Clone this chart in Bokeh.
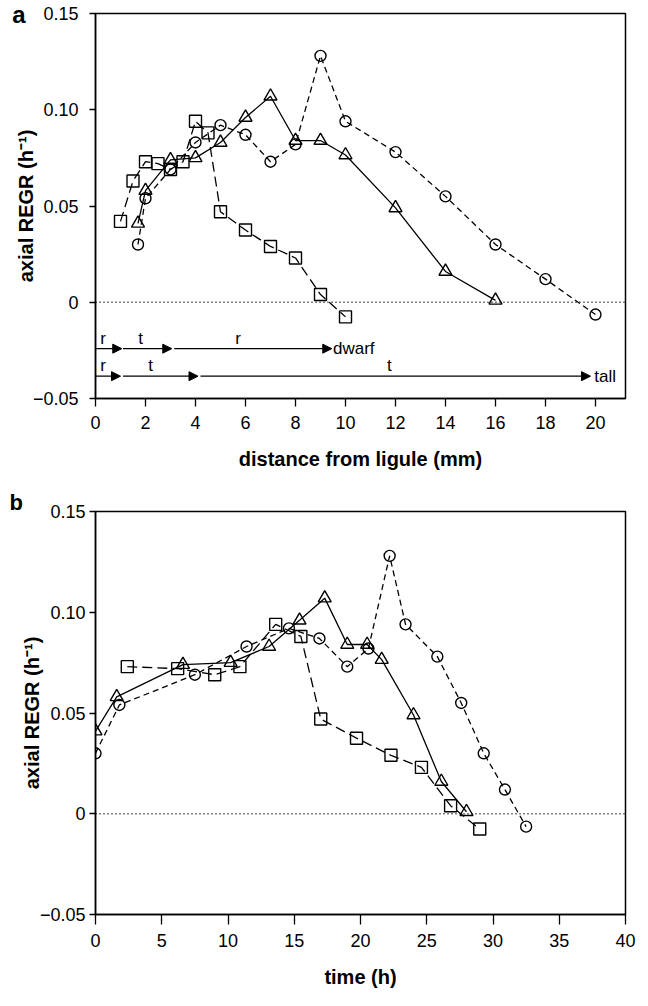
from bokeh.plotting import figure
from bokeh.models import Span, Arrow, NormalHead, FixedTicker, Range1d, LinearAxis
from bokeh.layouts import column
from bokeh.core.properties import value
from bokeh.embed import file_html
from bokeh.resources import INLINE

FONT = "Liberation Sans"

# ---------------- data ----------------
# squares (dwarf), long dashes
sq_regr = [0.042, 0.063, 0.073, 0.072, 0.069, 0.073, 0.094, 0.088, 0.047, 0.0375, 0.029, 0.023, 0.004, -0.0076]
sq_dist = [1.0, 1.5, 2.0, 2.5, 3.0, 3.5, 4.0, 4.5, 5.0, 6.0, 7.0, 8.0, 9.0, 10.0]
sq_time = [2.4, 6.2, 9.0, 10.9, 13.6, 15.5, 17.0, 19.7, 22.3, 24.6, 26.8, 29.0]  # for sq_regr[2:]

# triangles, solid
tr_regr = [0.041, 0.058, 0.074, 0.075, 0.083, 0.096, 0.107, 0.084, 0.084, 0.0765, 0.049, 0.016, 0.001]
tr_dist = [1.7, 2.0, 3.0, 4.0, 5.0, 6.0, 7.0, 8.0, 9.0, 10.0, 12.0, 14.0, 16.0]
tr_time = [0.0, 1.6, 6.6, 10.2, 13.1, 15.4, 17.3, 19.0, 20.5, 21.6, 24.0, 26.1, 28.0]

# circles, short dashes
ci_regr = [0.030, 0.054, 0.069, 0.083, 0.092, 0.087, 0.073, 0.082, 0.128, 0.094, 0.078, 0.055, 0.030, 0.012, -0.0064]
ci_dist = [1.7, 2.0, 3.0, 4.0, 5.0, 6.0, 7.0, 8.0, 9.0, 10.0, 12.0, 14.0, 16.0, 18.0, 20.0]
ci_time = [0.0, 1.8, 7.5, 11.4, 14.6, 16.9, 19.0, 20.6, 22.2, 23.4, 25.8, 27.6, 29.3, 30.9, 32.5]

y_ticks = [-0.05, 0.0, 0.05, 0.10, 0.15]
y_tick_labels = ["\u22120.05", "0", "0.05", "0.10", "0.15"]
xa_ticks = [0, 2, 4, 6, 8, 10, 12, 14, 16, 18, 20]
xb_ticks = [0, 5, 10, 15, 20, 25, 30, 35, 40]

# zone annotations (panel a): arrow segments (start, end) and labels
dwarf_row_y = -0.0241
tall_row_y = -0.0384
dwarf_segs = [(0.0, 1.05), (1.1, 3.05), (3.15, 9.45)]
dwarf_seg_labels = ["r", "t", "r"]
dwarf_lab_x = [0.3, 1.8, 5.7]
tall_segs = [(0.0, 1.0), (1.1, 4.1), (4.2, 19.8)]
tall_seg_labels = ["r", "t", "t"]
tall_lab_x = [0.3, 2.2, 11.75]
row_names = ["dwarf", "tall"]
row_name_x = [9.5, 19.95]


def style(p, xticks, xtick_len):
    p.xaxis.ticker = FixedTicker(ticks=xticks)
    p.yaxis.ticker = FixedTicker(ticks=y_ticks)
    p.yaxis.major_label_overrides = dict(zip(y_ticks, y_tick_labels))
    p.grid.visible = False
    p.outline_line_color = "black"
    p.outline_line_width = 1.5
    p.outline_line_alpha = 1
    for ax in (p.xaxis, p.yaxis):
        ax.minor_tick_line_color = None
        ax.major_tick_in = 0
        ax.axis_line_width = 1.5
        ax.major_tick_line_width = 1.3
        ax.major_label_text_font = FONT
        ax.major_label_text_font_size = "18px"
        ax.major_label_text_color = "black"
        ax.axis_label_text_font = FONT
        ax.axis_label_text_font_size = "20px"
        ax.axis_label_text_font_style = "bold"
        ax.axis_label_text_color = "black"
    p.xaxis.major_tick_out = xtick_len
    p.yaxis.major_tick_out = 6
    p.yaxis.axis_label = "axial REGR (h\u207b\u00b9)"
    p.add_layout(Span(location=0, dimension="width", line_color="black",
                      line_dash="1 3", line_width=1.5))


def series(p, xs_sq, ys_sq, xs_tr, ys_tr, xs_ci, ys_ci):
    p.line(xs_sq, ys_sq, line_color="black", line_width=1.3, line_dash="10 5")
    p.scatter(xs_sq, ys_sq, marker="square", size=12, fill_color=None,
              line_color="black", line_width=1.4)
    p.line(xs_tr, ys_tr, line_color="black", line_width=1.3)
    p.scatter(xs_tr, ys_tr, marker="triangle", size=13, fill_color=None,
              line_color="black", line_width=1.4)
    p.line(xs_ci, ys_ci, line_color="black", line_width=1.3, line_dash="6 4")
    p.scatter(xs_ci, ys_ci, marker="circle", size=11, fill_color=None,
              line_color="black", line_width=1.4)


# ---------------- panel a ----------------
pa = figure(width=640, height=482, x_range=Range1d(0, 21.2), y_range=Range1d(-0.05, 0.15),
            output_backend="svg", toolbar_location=None,
            min_border_left=90, min_border_right=14, min_border_top=13, min_border_bottom=84)
style(pa, xa_ticks, 8)
pa.xaxis.axis_label = "distance from ligule (mm)"
pa.xaxis.major_label_standoff = 9
pa.xaxis.axis_label_standoff = 16
pa.yaxis.major_label_standoff = 11
pa.yaxis.axis_label_standoff = -7
series(pa, sq_dist, sq_regr, tr_dist, tr_regr, ci_dist, ci_regr)

for segs, yrow in ((dwarf_segs, dwarf_row_y), (tall_segs, tall_row_y)):
    for (x0, x1) in segs:
        pa.add_layout(Arrow(end=NormalHead(size=9, fill_color="black", line_color="black"),
                            x_start=x0, y_start=yrow, x_end=x1, y_end=yrow,
                            line_color="black", line_width=1.3))
pa.text(x=dwarf_lab_x + tall_lab_x,
        y=[dwarf_row_y] * 3 + [tall_row_y] * 3,
        text=dwarf_seg_labels + tall_seg_labels,
        text_font=value(FONT), text_font_size="17px", text_align="center",
        text_baseline="bottom", y_offset=-1, text_color="black")
pa.text(x=row_name_x, y=[dwarf_row_y, tall_row_y], text=row_names,
        text_font=value(FONT), text_font_size="17px", text_align="left",
        text_baseline="middle", text_color="black")

# panel letter "a" as a label-only axis on the far left
ax_a = LinearAxis(ticker=FixedTicker(ticks=[0.15]), major_label_overrides={0.15: "a"},
                  axis_line_color=None, major_tick_line_color=None,
                  minor_tick_line_color=None, major_tick_out=0, major_tick_in=0,
                  major_label_standoff=-14, major_label_text_font=FONT,
                  major_label_text_font_size="24px", major_label_text_font_style="bold",
                  major_label_text_color="black")
pa.add_layout(ax_a, "left")

# ---------------- panel b ----------------
pb = figure(width=640, height=508, x_range=Range1d(0, 40), y_range=Range1d(-0.05, 0.15),
            output_backend="svg", toolbar_location=None, title="b",
            min_border_left=95, min_border_right=15, min_border_top=29, min_border_bottom=75)
pb.title.align = "left"
pb.title.offset = -86
pb.title.standoff = -7
pb.title.text_font = FONT
pb.title.text_font_size = "22px"
pb.title.text_font_style = "bold"
pb.title.text_color = "black"
style(pb, xb_ticks, 10)
pb.xaxis.axis_label = "time (h)"
pb.xaxis.major_label_standoff = 9
pb.xaxis.axis_label_standoff = 16
pb.yaxis.major_label_standoff = 4
pb.yaxis.axis_label_standoff = -6
series(pb, sq_time, sq_regr[2:], tr_time, tr_regr, ci_time, ci_regr)

layout = column(pa, pb, spacing=0)
open("out.html", "w").write(file_html(layout, INLINE))
